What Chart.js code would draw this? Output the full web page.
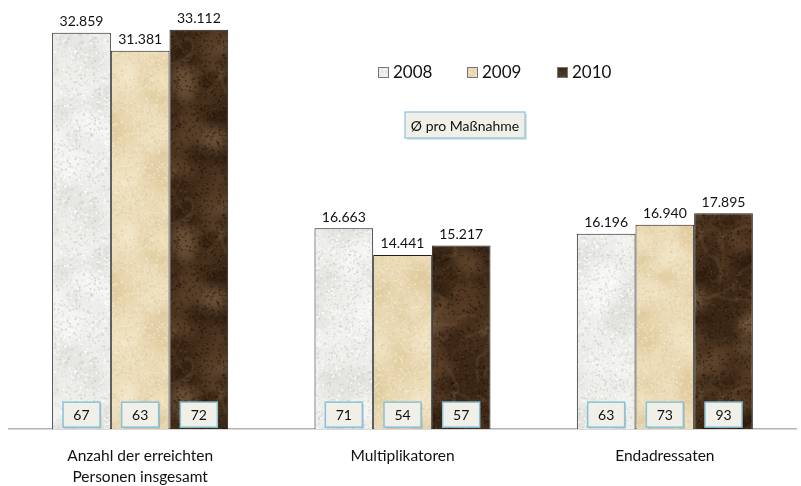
<!DOCTYPE html>
<html>
<head>
<meta charset="utf-8">
<script src="https://cdn.jsdelivr.net/npm/chart.js@4"></script>
<style>
  body { margin: 0; background: #fff; }
  #wrap { width: 801px; height: 486px; }
</style>
</head>
<body>
<div id="wrap"><canvas id="chart" width="801" height="486"></canvas></div>
<script>
const categories = [["Anzahl der erreichten", "Personen insgesamt"], "Multiplikatoren", "Endadressaten"];
const years = ["2008", "2009", "2010"];
const values2008 = [32859, 16663, 16196];
const values2009 = [31381, 14441, 16940];
const values2010 = [33112, 15217, 17895];
const perMeasure2008 = [67, 71, 63];
const perMeasure2009 = [63, 54, 73];
const perMeasure2010 = [72, 57, 93];

// small seeded generator, only for the texture look of the bars
let seed = 7;
function rnd() {
  seed = (seed * 16807) % 2147483647;
  return (seed - 1) / 2147483646;
}

// draws a tile on a 3x3 canvas so blur wraps around, then keeps the middle tile
function makeTexture(base, spots, blotches, veins) {
  const S = 160;
  const big = document.createElement("canvas");
  big.width = S * 3; big.height = S * 3;
  const g = big.getContext("2d");
  g.fillStyle = base;
  g.fillRect(0, 0, S * 3, S * 3);
  const tiled = (fn) => {
    for (let ox = 0; ox < 3; ox++) for (let oy = 0; oy < 3; oy++) fn(ox * S, oy * S);
  };
  if (blotches) {
    g.filter = "blur(6px)";
    for (let i = 0; i < 40; i++) {
      const col = blotches[Math.floor(rnd() * blotches.length)];
      const x = rnd() * S, y = rnd() * S, rx = 6 + rnd() * 18, ry = 4 + rnd() * 12, r = rnd() * 3;
      g.fillStyle = col;
      tiled((ox, oy) => { g.beginPath(); g.ellipse(x + ox, y + oy, rx, ry, r, 0, Math.PI * 2); g.fill(); });
    }
  }
  if (veins) {
    g.filter = "blur(0.8px)";
    g.lineWidth = 1;
    for (let i = 0; i < 18; i++) {
      g.strokeStyle = veins[Math.floor(rnd() * veins.length)];
      const pts = [];
      let x = rnd() * S, y = rnd() * S;
      pts.push([x, y]);
      for (let k = 0; k < 3; k++) {
        const cx = x + (rnd() - 0.5) * 30, cy = y + (rnd() - 0.5) * 30;
        x += (rnd() - 0.5) * 60; y += (rnd() - 0.5) * 60;
        pts.push([cx, cy, x, y]);
      }
      tiled((ox, oy) => {
        g.beginPath();
        g.moveTo(pts[0][0] + ox, pts[0][1] + oy);
        for (let k = 1; k < pts.length; k++) g.quadraticCurveTo(pts[k][0] + ox, pts[k][1] + oy, pts[k][2] + ox, pts[k][3] + oy);
        g.stroke();
      });
    }
  }
  g.filter = "none";
  const c = document.createElement("canvas");
  c.width = S; c.height = S;
  const t = c.getContext("2d");
  t.drawImage(big, S, S, S, S, 0, 0, S, S);
  for (let i = 0; i < 2600; i++) {
    t.fillStyle = spots[Math.floor(rnd() * spots.length)];
    t.fillRect(rnd() * S, rnd() * S, 1 + rnd(), 1 + rnd());
  }
  return t.createPattern(c, "repeat");
}

const ctx = document.getElementById("chart").getContext("2d");
const tex2008 = makeTexture("#eeeeeb", ["rgba(200,200,196,0.6)", "rgba(255,255,255,0.8)", "rgba(215,215,210,0.6)"], ["#f6f6f4", "#e3e3df"], null);
const tex2009 = makeTexture("#ebdbb6", ["rgba(220,202,160,0.5)", "rgba(246,236,212,0.6)"], ["#f3e7cb", "#e1cca0", "#eedfbd"], null);
const tex2010 = makeTexture("#3b2716", ["rgba(30,18,8,0.5)", "rgba(95,70,48,0.4)"], ["#5a3f28", "#2a1a0c", "#6a5038", "#46301c"], ["rgba(150,120,90,0.55)", "rgba(120,95,70,0.5)"]);

const perMeasure = [perMeasure2008, perMeasure2009, perMeasure2010];
const fontFamily = "Lato, 'Open Sans', sans-serif";

const overlay = {
  id: "overlay",
  afterDatasetsDraw(chart) {
    const c = chart.ctx;
    c.save();
    // value labels above bars
    c.font = "14px " + fontFamily;
    c.fillStyle = "#111";
    c.textAlign = "center";
    c.textBaseline = "bottom";
    chart.data.datasets.forEach((ds, di) => {
      chart.getDatasetMeta(di).data.forEach((bar, i) => {
        c.fillText(ds.data[i].toLocaleString("de-DE"), bar.x, bar.y - 4);
      });
    });
    // per-measure boxes
    const bottom = chart.chartArea.bottom;
    chart.data.datasets.forEach((ds, di) => {
      chart.getDatasetMeta(di).data.forEach((bar, i) => {
        const w = 37, h = 25;
        const x = bar.x - w / 2, y = bottom - 27;
        c.fillStyle = "rgba(0,0,0,0.15)";
        c.fillRect(x + 1.5, y + 1.5, w, h);
        c.fillStyle = "#f0efe8";
        c.fillRect(x, y, w, h);
        c.strokeStyle = "#86c3da";
        c.lineWidth = 1.5;
        c.strokeRect(x, y, w, h);
        c.fillStyle = "#111";
        c.font = "14px " + fontFamily;
        c.textBaseline = "middle";
        c.fillText(String(perMeasure[di][i]), bar.x, y + h / 2 + 1);
      });
    });
    // legend
    const legendX = [378, 467, 557];
    c.font = "17px " + fontFamily;
    c.textAlign = "left";
    c.textBaseline = "middle";
    chart.data.datasets.forEach((ds, di) => {
      c.fillStyle = ds.backgroundColor;
      c.fillRect(legendX[di], 67, 10, 10);
      c.strokeStyle = "#777";
      c.lineWidth = 1;
      c.strokeRect(legendX[di] + 0.5, 67.5, 10, 10);
      c.fillStyle = "#111";
      c.fillText(ds.label, legendX[di] + 15, 73);
    });
    // note box
    c.fillStyle = "rgba(0,0,0,0.12)";
    c.fillRect(407, 114, 120, 26);
    c.fillStyle = "#f0efe8";
    c.fillRect(405, 112, 120, 26);
    c.strokeStyle = "#86c3da";
    c.lineWidth = 1.2;
    c.strokeRect(405, 112, 120, 26);
    c.fillStyle = "#111";
    c.font = "14px " + fontFamily;
    c.textAlign = "center";
    c.fillText("Ø pro Maßnahme", 465, 126);
    c.restore();
  }
};

new Chart(ctx, {
  type: "bar",
  data: {
    labels: categories,
    datasets: [
      { label: years[0], data: values2008, backgroundColor: tex2008 },
      { label: years[1], data: values2009, backgroundColor: tex2009 },
      { label: years[2], data: values2010, backgroundColor: tex2010 }
    ].map(d => Object.assign(d, { borderColor: "#1e1e1e", borderWidth: 1, categoryPercentage: 0.671, barPercentage: 1 }))
  },
  options: {
    responsive: false,
    animation: false,
    layout: { padding: { left: 9, right: 5, top: 7, bottom: -17 } },
    plugins: { legend: { display: false }, tooltip: { enabled: false } },
    scales: {
      x: {
        grid: { display: false, drawTicks: false },
        border: { display: true, color: "#b3b3b3", width: 1.5 },
        ticks: { color: "#111", font: { size: 15.5, family: fontFamily, lineHeight: 1.35 }, padding: 16 }
      },
      y: {
        display: false,
        min: 0,
        max: 35000
      }
    }
  },
  plugins: [overlay]
});
</script>
</body>
</html>
